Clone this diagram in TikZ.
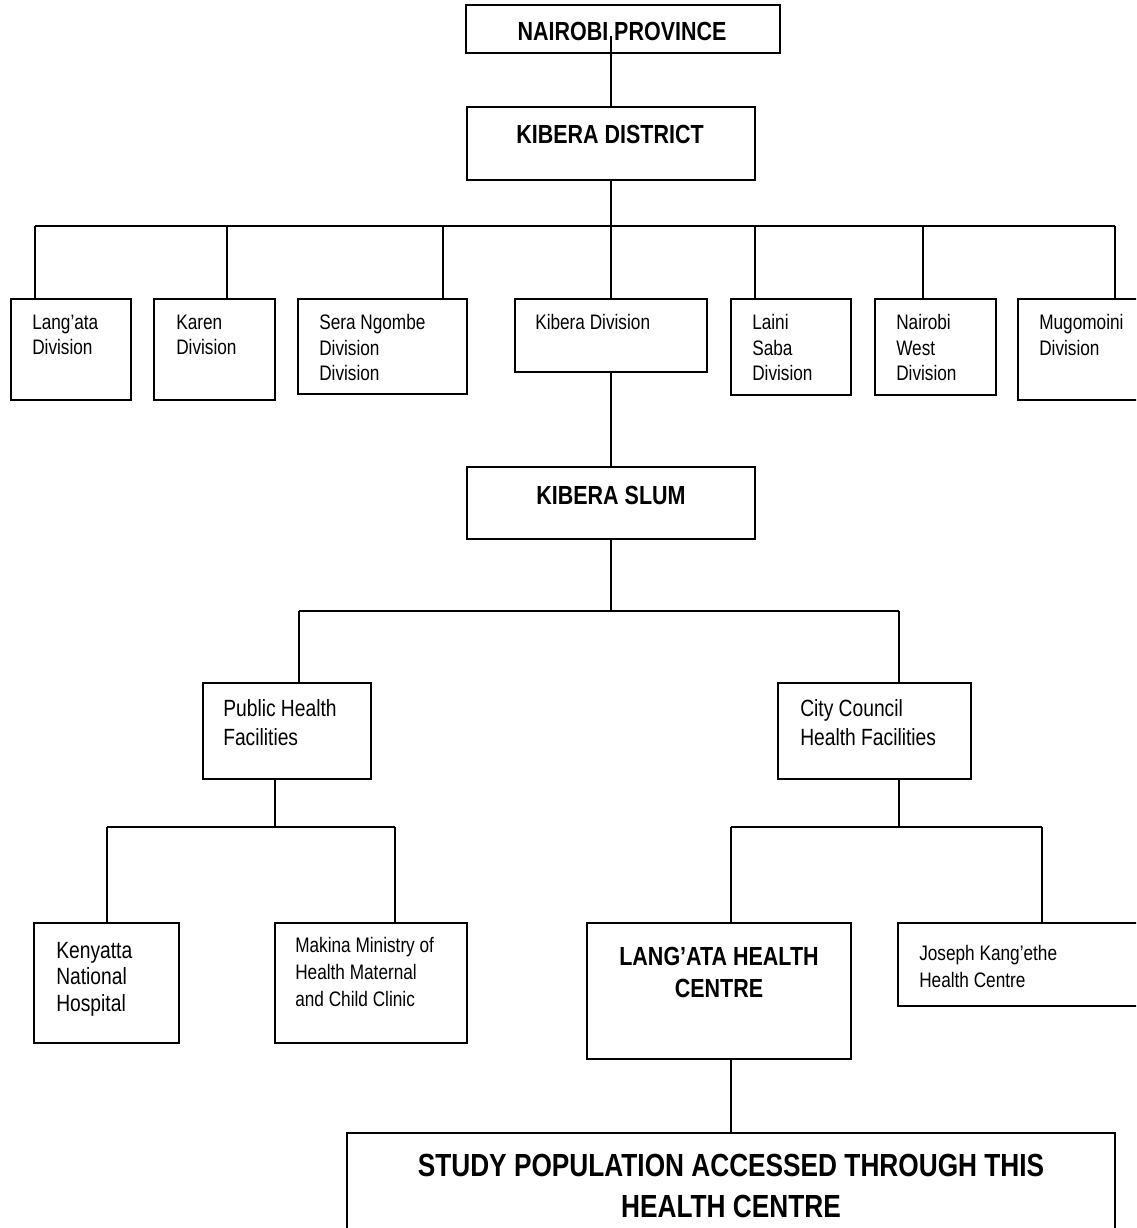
\documentclass[tikz,border=0pt]{standalone}
\usepackage{fontspec}
\setmainfont{Liberation Sans}[FakeStretch=0.82]
\usetikzlibrary{fit}
\begin{document}
\begin{tikzpicture}[x=0.75pt,y=-0.75pt,
  box/.style={draw, line width=1.5pt, inner sep=0pt, rectangle},
  link/.style={draw, line width=1.5pt},
  txt/.style={inner sep=0pt, align=left, anchor=north west},
  divtxt/.style={txt, font=\fontsize{15.75pt}{19.1pt}\selectfont},
  phtxt/.style={txt, font=\fontsize{17.6pt}{21.75pt}\selectfont},
  kentxt/.style={txt, font=\fontsize{17.6pt}{20pt}\selectfont},
  smalltxt/.style={txt, font=\fontsize{15.75pt}{19.9pt}\selectfont},
  boldtxt/.style={inner sep=0pt, align=center, font=\bfseries\fontsize{19.65pt}{24.4pt}\selectfont},
  bigtxt/.style={inner sep=0pt, align=center, anchor=north, font=\bfseries\fontsize{24pt}{30.4pt}\selectfont}
]
\useasboundingbox (0,0) rectangle (1136,1228);
\clip (0,0) rectangle (1136,1228);

% ---- top levels
\node[box, fit={(466,5) (780,53)}] (np) {};
\node[boldtxt] (np-t) at (622,31) {NAIROBI PROVINCE};
\node[box, fit={(467,107) (755,180)}] (kd) {};
\node[boldtxt] (kd-t) at (610,134) {KIBERA DISTRICT};
\coordinate (np-stub) at (611,36);
\draw[link] (np-stub) -- (kd.north);

% ---- divisions
\node[box, fit={(11,299) (131,400)}] (langata) {};
\node[box, fit={(154,299) (275,400)}] (karen) {};
\node[box, fit={(298,299) (467,394)}] (sera) {};
\node[box, fit={(515,299) (707,372)}] (kibdiv) {};
\node[box, fit={(731,299) (851,395)}] (laini) {};
\node[box, fit={(875,299) (996,395)}] (nw) {};
\node[box, fit={(1018,299) (1150,400)}] (mugo) {};

\node[divtxt] (langata-t) at (32,314.5) {Lang’ata\\Division};
\node[divtxt] (karen-t) at (176,314.5) {Karen\\Division};
\node[divtxt] (sera-t) at (319,314.5) {Sera Ngombe\\Division\\Division};
\node[divtxt] (kibdiv-t) at (535,314.5) {Kibera Division};
\node[divtxt] (laini-t) at (752,314.5) {Laini\\Saba\\Division};
\node[divtxt] (nw-t) at (896,314.5) {Nairobi\\West\\Division};
\node[divtxt] (mugo-t) at (1039,314.5) {Mugomoini\\Division};

\coordinate (busA) at (611,226);
\coordinate (busA-l) at (35,226);
\coordinate (busA-r) at (1115,226);
\draw[link] (kd.south) -- (busA);
\draw[link] (busA-l) -- (busA-r);
\foreach \n/\x in {langata/35, karen/227, sera/443, kibdiv/611, laini/755, nw/923, mugo/1115}{
  \coordinate (tap-\n) at (\x,226);
  \draw[link] (tap-\n) -- (tap-\n |- \n.north);
}

% ---- Kibera slum
\node[box, fit={(467,467) (755,539)}] (ks) {};
\node[boldtxt] (ks-t) at (611,495) {KIBERA SLUM};
\draw[link] (kibdiv.south) -- (ks.north);

\coordinate (busB) at (611,611);
\coordinate (busB-l) at (299,611);
\coordinate (busB-r) at (899,611);
\draw[link] (ks.south) -- (busB);
\draw[link] (busB-l) -- (busB-r);

\node[box, fit={(203,683) (371,779)}] (ph) {};
\node[phtxt] (ph-t) at (223,699.6) {Public Health\\Facilities};
\node[box, fit={(778,683) (971,779)}] (cc) {};
\node[phtxt] (cc-t) at (800,699.6) {City Council\\Health Facilities};
\draw[link] (busB-l) -- (busB-l |- ph.north);
\draw[link] (busB-r) -- (busB-r |- cc.north);

% ---- public facilities
\coordinate (busC) at (275,827);
\coordinate (busC-l) at (107,827);
\coordinate (busC-r) at (395,827);
\draw[link] (busC |- ph.south) -- (busC);
\draw[link] (busC-l) -- (busC-r);

\node[box, fit={(34,923) (179,1043)}] (ken) {};
\node[kentxt] (ken-t) at (56,941.6) {Kenyatta\\National\\Hospital};
\node[box, fit={(275,923) (467,1043)}] (mak) {};
\node[smalltxt] (mak-t) at (295,937.5) {Makina Ministry of\\Health Maternal\\and Child Clinic};
\draw[link] (busC-l) -- (busC-l |- ken.north);
\draw[link] (busC-r) -- (busC-r |- mak.north);

% ---- city council facilities
\coordinate (busD) at (899,827);
\coordinate (busD-l) at (731,827);
\coordinate (busD-r) at (1042,827);
\draw[link] (busD |- cc.south) -- (busD);
\draw[link] (busD-l) -- (busD-r);

\node[box, fit={(587,923) (851,1059)}] (lhc) {};
\node[boldtxt, anchor=north] (lhc-t) at (719,946.6) {LANG’ATA HEALTH\\CENTRE};
\node[box, fit={(898,923) (1150,1006)}] (jk) {};
\node[smalltxt] (jk-t) at (919,945) {Joseph Kang’ethe\\Health Centre};
\draw[link] (busD-l) -- (busD-l |- lhc.north);
\draw[link] (busD-r) -- (busD-r |- jk.north);

% ---- study population
\node[box, fit={(347,1133) (1115,1270)}] (study) {};
\node[bigtxt] (study-t) at (731,1154) {STUDY POPULATION ACCESSED THROUGH THIS\\HEALTH CENTRE};
\draw[link] (busD-l |- lhc.south) -- (study.north);
\end{tikzpicture}
\end{document}
